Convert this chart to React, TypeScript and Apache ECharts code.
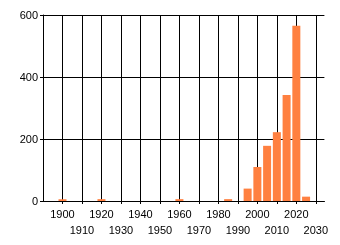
import React, { useEffect, useRef } from "react";
import * as echarts from "echarts";

const years = [1900, 1920, 1960, 1985, 1995, 2000, 2005, 2010, 2015, 2020, 2025];
const counts = [6, 6, 6, 6, 40, 110, 178, 222, 342, 565, 14];
const yTicks = [0, 200, 400, 600];

export default function App() {
  const ref = useRef<HTMLDivElement>(null);
  useEffect(() => {
    if (!ref.current) return;
    const chart = echarts.init(ref.current, undefined, { renderer: "svg" });
    const font = "Liberation Sans";
    chart.setOption({
      animation: false,
      grid: { left: 43, right: 15.6, top: 15, bottom: 44 },
      xAxis: {
        type: "value",
        min: 1890,
        max: 2034.4,
        interval: 10,
        axisLine: { show: true, lineStyle: { color: "#000", width: 1 } },
        axisTick: { show: true, length: 3, lineStyle: { color: "#000" } },
        splitLine: { show: true, showMaxLine: false, lineStyle: { color: "#000", width: 1 } },
        axisLabel: {
          showMinLabel: false,
          showMaxLabel: false,
          color: "#000",
          fontFamily: font,
          fontSize: 11,
          margin: 5,
          lineHeight: 16,
          formatter: (v: number) => {
            const r = Math.round(v);
            return (r / 10) % 2 === 1 ? "\n" + r : String(r);
          },
        },
      },
      yAxis: {
        type: "value",
        min: yTicks[0],
        max: yTicks[yTicks.length - 1],
        interval: 200,
        axisLine: { show: true, lineStyle: { color: "#000", width: 1 } },
        axisTick: { show: true, length: 3, lineStyle: { color: "#000" } },
        splitLine: { show: true, lineStyle: { color: "#000", width: 1 } },
        axisLabel: { color: "#000", fontFamily: font, fontSize: 11, margin: 5 },
      },
      series: [
        {
          type: "bar",
          data: years.map((y, i) => [y, counts[i]]),
          barWidth: 8,
          itemStyle: { color: "#ff8040" },
        },
      ],
    });
    return () => chart.dispose();
  }, []);
  return (
    <div
      ref={ref}
      style={{ position: "fixed", left: 0, top: 0, width: 340, height: 245 }}
    />
  );
}
